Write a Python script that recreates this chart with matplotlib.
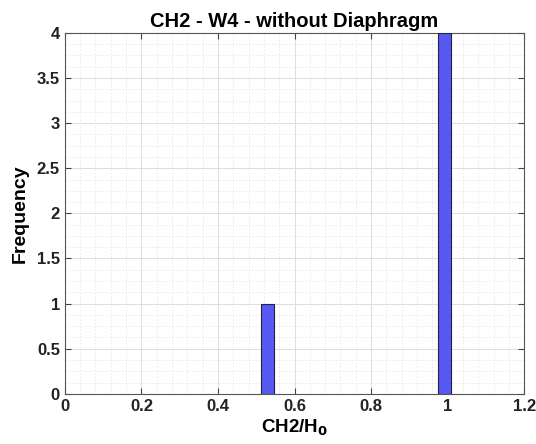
import matplotlib
matplotlib.use("Agg")
import matplotlib.pyplot as plt
from matplotlib.ticker import MultipleLocator

# Histogram bins (left edge) and counts
bin_left = [0.512, 0.974]
bin_width = 0.035
counts = [1, 4]

x_ticks = [0, 0.2, 0.4, 0.6, 0.8, 1, 1.2]
x_labels = ["0", "0.2", "0.4", "0.6", "0.8", "1", "1.2"]
y_ticks = [0, 0.5, 1, 1.5, 2, 2.5, 3, 3.5, 4]
y_labels = ["0", "0.5", "1", "1.5", "2", "2.5", "3", "3.5", "4"]

plt.rcParams["font.family"] = ["Liberation Sans", "DejaVu Sans"]
plt.rcParams["font.weight"] = "bold"

fig = plt.figure(figsize=(5.36, 4.44), dpi=100)
ax = fig.add_axes([0.121, 0.113, 0.857, 0.813])

ax.bar(bin_left, counts, width=bin_width, align="edge",
       color="#5858f2", edgecolor="#222244", linewidth=0.8, zorder=3)

ax.set_xlim(0, 1.2)
ax.set_ylim(0, 4)
ax.set_xticks(x_ticks)
ax.set_xticklabels(x_labels)
ax.set_yticks(y_ticks)
ax.set_yticklabels(y_labels)
ax.xaxis.set_minor_locator(MultipleLocator(0.04))
ax.yaxis.set_minor_locator(MultipleLocator(0.125))

ax.grid(True, which="major", color="#dddddd", linewidth=0.7, zorder=0)
ax.grid(True, which="minor", color="#e8e8e8", linewidth=0.6,
        linestyle=(0, (2, 2)), zorder=0)
ax.tick_params(which="major", direction="in", length=4, labelsize=12,
               top=True, right=True, color="#444444", labelcolor="#222222")
ax.tick_params(which="minor", length=0)
for s in ax.spines.values():
    s.set_color("#555555")
    s.set_linewidth(0.8)

ax.set_xlabel("CH2/H$_\\mathbf{0}$", fontsize=13.5, fontweight="bold", labelpad=3)
ax.set_ylabel("Frequency", fontsize=14, fontweight="bold", labelpad=6)
ax.set_title("CH2 - W4 - without Diaphragm", fontsize=14.5, fontweight="bold", pad=4)

fig.savefig("out.png", dpi=100)
